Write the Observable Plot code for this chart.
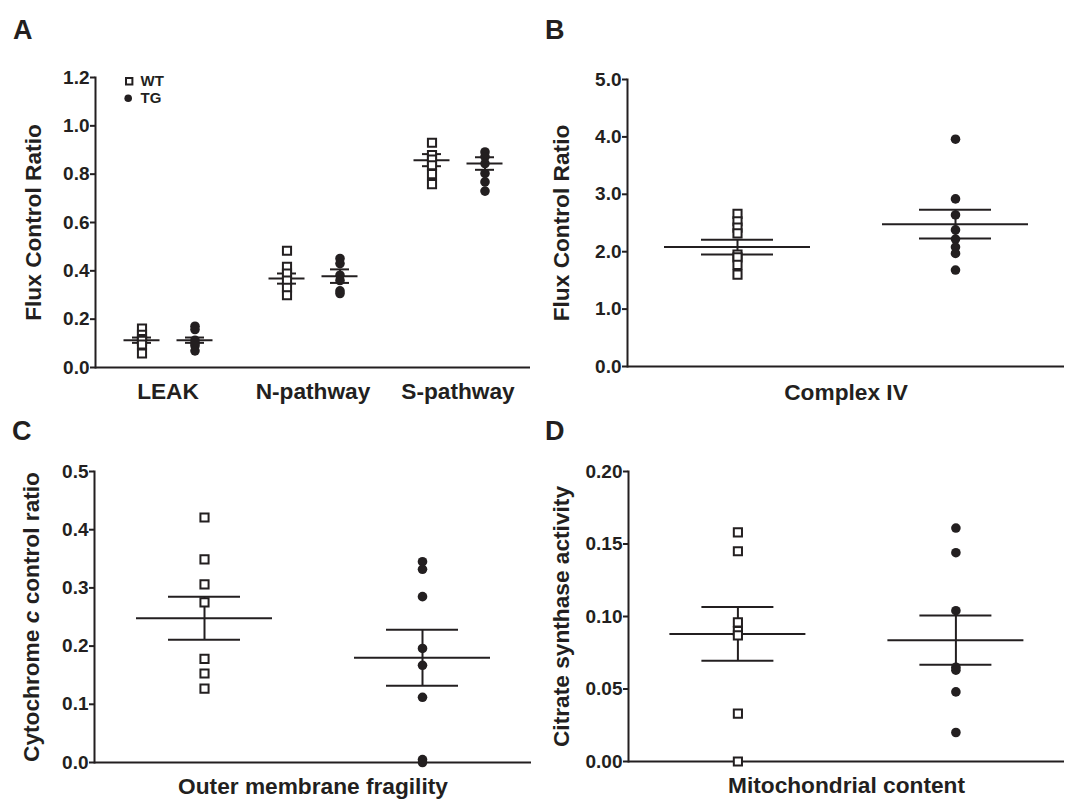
<!DOCTYPE html>
<html><head><meta charset="utf-8">
<script src="https://cdn.jsdelivr.net/npm/d3@7"></script>
<script src="https://cdn.jsdelivr.net/npm/@observablehq/plot@0.6"></script>
<style>
body{margin:0;background:#fff;}
#fig{position:relative;width:1070px;height:799px;background:#fff;font-family:'Liberation Sans',Arial,sans-serif;color:#231f20;overflow:hidden;}
.panel{position:absolute;}
.letter{position:absolute;font-size:27px;font-weight:bold;line-height:1;}
svg g[aria-label="y-axis label"] text, svg g[aria-label="fx-axis tick label"] text{font-size:22.7px;}
svg g[aria-label*="y-axis"] path, svg line{stroke-width:2px;}
</style></head>
<body><div id="fig"></div>
<script>
const INK = "#231f20";
const groups = ["WT", "TG"];

// ---- Panel A: Flux control ratios ----
const catsA = ["LEAK", "N-pathway", "S-pathway"];
const leakWT = [0.161, 0.135, 0.118, 0.110, 0.095, 0.058];
const leakTG = [0.171, 0.157, 0.113, 0.100, 0.090, 0.069];
const nWT = [0.483, 0.417, 0.389, 0.360, 0.330, 0.299];
const nTG = [0.451, 0.430, 0.382, 0.360, 0.317, 0.306];
const sWT = [0.930, 0.879, 0.860, 0.837, 0.800, 0.759];
const sTG = [0.892, 0.872, 0.844, 0.803, 0.768, 0.730];
const aMeanWT = [0.113, 0.368, 0.858];
const aSemWT = [0.011, 0.021, 0.025];
const aMeanTG = [0.113, 0.378, 0.844];
const aSemTG = [0.011, 0.028, 0.026];
const aTicks = [0, 0.2, 0.4, 0.6, 0.8, 1.0, 1.2];

// ---- Panel B: Complex IV ----
const catsB = ["Complex IV"];
const cIVWT = [2.66, 2.53, 2.42, 2.32, 1.95, 1.90, 1.77, 1.60];
const cIVTG = [3.96, 2.92, 2.64, 2.38, 2.22, 2.08, 1.97, 1.68];
const bMeanWT = [2.08], bSemWT = [0.13];
const bMeanTG = [2.48], bSemTG = [0.25];
const bTicks = [0, 1, 2, 3, 4, 5];

// ---- Panel C: Outer membrane fragility ----
const catsC = ["Outer membrane fragility"];
const omfWT = [0.421, 0.349, 0.306, 0.275, 0.178, 0.153, 0.127];
const omfTG = [0.345, 0.332, 0.285, 0.196, 0.167, 0.112, 0.005, 0.0];
const cMeanWT = [0.248], cSemWT = [0.037];
const cMeanTG = [0.180], cSemTG = [0.048];
const cTicks = [0, 0.1, 0.2, 0.3, 0.4, 0.5];

// ---- Panel D: Mitochondrial content ----
const catsD = ["Mitochondrial content"];
const csWT = [0.158, 0.145, 0.096, 0.090, 0.087, 0.033, 0.0];
const csTG = [0.161, 0.144, 0.104, 0.065, 0.063, 0.048, 0.020];
const dMeanWT = [0.088], dSemWT = [0.0185];
const dMeanTG = [0.0837], dSemTG = [0.017];
const dTicks = [0, 0.05, 0.10, 0.15, 0.20];

function buildPanel(cfg) {
  const pts = [], stats = [];
  cfg.cats.forEach((c, i) => {
    groups.forEach(g => {
      cfg.values[g][i].forEach(v => pts.push({cat: c, group: g, value: v}));
      const m = cfg.mean[g][i], s = cfg.sem[g][i];
      stats.push({cat: c, group: g, mean: m, lo: m - s, hi: m + s});
    });
  });
  const wt = pts.filter(d => d.group === "WT");
  const tg = pts.filter(d => d.group === "TG");
  const marks = [
    Plot.ruleY([0], {stroke: INK, strokeWidth: 2}),
    Plot.ruleX(stats, {fx: "cat", x: "group", y1: "lo", y2: "hi", stroke: INK, strokeWidth: 2}),
    Plot.tickY(stats, {fx: "cat", x: "group", y: "mean", stroke: INK, strokeWidth: 2, insetLeft: cfg.meanInset, insetRight: cfg.meanInset}),
    Plot.tickY(stats, {fx: "cat", x: "group", y: "lo", stroke: INK, strokeWidth: 2, insetLeft: cfg.capInset, insetRight: cfg.capInset}),
    Plot.tickY(stats, {fx: "cat", x: "group", y: "hi", stroke: INK, strokeWidth: 2, insetLeft: cfg.capInset, insetRight: cfg.capInset}),
    Plot.dot(wt, {fx: "cat", x: "group", y: "value", symbol: "square", r: 4.6, fill: "white", stroke: INK, strokeWidth: 2}),
    Plot.dot(tg, {fx: "cat", x: "group", y: "value", symbol: "circle", r: 4.8, fill: INK, stroke: "none"})
  ];
  if (cfg.legend) {
    const lw = [{cat: cfg.cats[0], label: "WT"}], lt = [{cat: cfg.cats[0], label: "TG"}];
    marks.push(
      Plot.dot(lw, {fx: "cat", frameAnchor: "top-left", dx: 33.7, dy: 3.7, symbol: "square", r: 3.6, fill: "white", stroke: INK, strokeWidth: 2}),
      Plot.dot(lt, {fx: "cat", frameAnchor: "top-left", dx: 32.7, dy: 20.7, symbol: "circle", r: 3.8, fill: INK, stroke: "none"}),
      Plot.text(lw, {fx: "cat", frameAnchor: "top-left", dx: 45, dy: 4, text: "label", textAnchor: "start", lineAnchor: "middle", fontSize: 15, fill: INK}),
      Plot.text(lt, {fx: "cat", frameAnchor: "top-left", dx: 45, dy: 21, text: "label", textAnchor: "start", lineAnchor: "middle", fontSize: 15, fill: INK})
    );
  }
  return Plot.plot({
    width: cfg.width, height: cfg.height,
    marginTop: cfg.mt, marginRight: cfg.mr, marginBottom: cfg.mb, marginLeft: cfg.ml,
    style: {fontFamily: "'Liberation Sans', Arial, sans-serif", fontSize: "19px", fontWeight: "bold", color: INK, background: "transparent", overflow: "visible"},
    fx: {domain: cfg.cats, padding: 0, axis: "bottom", label: null, tickSize: 0, tickPadding: cfg.fxPad},
    x: {type: "band", domain: groups, paddingInner: 0, paddingOuter: cfg.padOuter, axis: null},
    y: {domain: cfg.yDomain, ticks: cfg.yTicks, tickFormat: cfg.yFormat, label: cfg.yLabel, labelAnchor: "center", labelArrow: false, labelOffset: cfg.labelOffset, tickSize: 5, tickPadding: 1, line: true},
    marks
  });
}

const panels = [
  {left: 0, top: 0, width: 535, height: 400, mt: 77, mr: 5, mb: 33, ml: 94, fxPad: 15,
   cats: catsA, values: {WT: [leakWT, nWT, sWT], TG: [leakTG, nTG, sTG]},
   mean: {WT: aMeanWT, TG: aMeanTG}, sem: {WT: aSemWT, TG: aSemTG},
   yDomain: [0, 1.2], yTicks: aTicks, yFormat: d3.format(".1f"), yLabel: "Flux Control Ratio", labelOffset: 71,
   padOuter: 0.345, meanInset: 8.5, capInset: 17, legend: true, letter: "A", lx: 13, ly: 16.5},
  {left: 533, top: 0, width: 537, height: 400, mt: 79, mr: 6, mb: 34, ml: 94, fxPad: 17,
   cats: catsB, values: {WT: [cIVWT], TG: [cIVTG]},
   mean: {WT: bMeanWT, TG: bMeanTG}, sem: {WT: bSemWT, TG: bSemTG},
   yDomain: [0, 5], yTicks: bTicks, yFormat: d3.format(".1f"), yLabel: "Flux Control Ratio", labelOffset: 75,
   padOuter: 0, meanInset: 36, capInset: 73, legend: false, letter: "B", lx: 545, ly: 16.5},
  {left: 0, top: 400, width: 535, height: 399, mt: 71, mr: 4, mb: 37, ml: 94, fxPad: 15,
   cats: catsC, values: {WT: [omfWT], TG: [omfTG]},
   mean: {WT: cMeanWT, TG: cMeanTG}, sem: {WT: cSemWT, TG: cSemTG},
   yDomain: [0, 0.5], yTicks: cTicks, yFormat: d3.format(".1f"), yLabel: "Cytochrome c control ratio", labelOffset: 72,
   padOuter: 0, meanInset: 41, capInset: 73, legend: false, letter: "C", lx: 12, ly: 418},
  {left: 533, top: 400, width: 537, height: 399, mt: 71, mr: 5.5, mb: 38, ml: 94.6, fxPad: 15,
   cats: catsD, values: {WT: [csWT], TG: [csTG]},
   mean: {WT: dMeanWT, TG: dMeanTG}, sem: {WT: dSemWT, TG: dSemTG},
   yDomain: [0, 0.2], yTicks: dTicks, yFormat: d3.format(".2f"), yLabel: "Citrate synthase activity", labelOffset: 76,
   padOuter: 0, meanInset: 41, capInset: 73, legend: false, letter: "D", lx: 545, ly: 418}
];

const fig = document.getElementById("fig");
for (const p of panels) {
  const wrap = document.createElement("div");
  wrap.className = "panel";
  wrap.style.left = p.left + "px";
  wrap.style.top = p.top + "px";
  wrap.appendChild(buildPanel(p));
  fig.appendChild(wrap);
  const letter = document.createElement("div");
  letter.className = "letter";
  letter.textContent = p.letter;
  letter.style.left = p.lx + "px";
  letter.style.top = p.ly + "px";
  fig.appendChild(letter);
}

// strip any label arrow, and set the italic "c" in the Cytochrome c label
const NS = "http://www.w3.org/2000/svg";
fig.querySelectorAll('g[aria-label="y-axis label"] text').forEach(t => {
  const s = t.textContent.replace(/[↑↓]/g, "").trim();
  t.textContent = s;
  if (s === "Cytochrome c control ratio") {
    t.textContent = "";
    const parts = [["Cytochrome ", false], ["c", true], [" control ratio", false]];
    for (const [str, it] of parts) {
      const ts = document.createElementNS(NS, "tspan");
      ts.textContent = str;
      if (it) ts.setAttribute("font-style", "italic");
      t.appendChild(ts);
    }
  }
});
</script></body></html>
